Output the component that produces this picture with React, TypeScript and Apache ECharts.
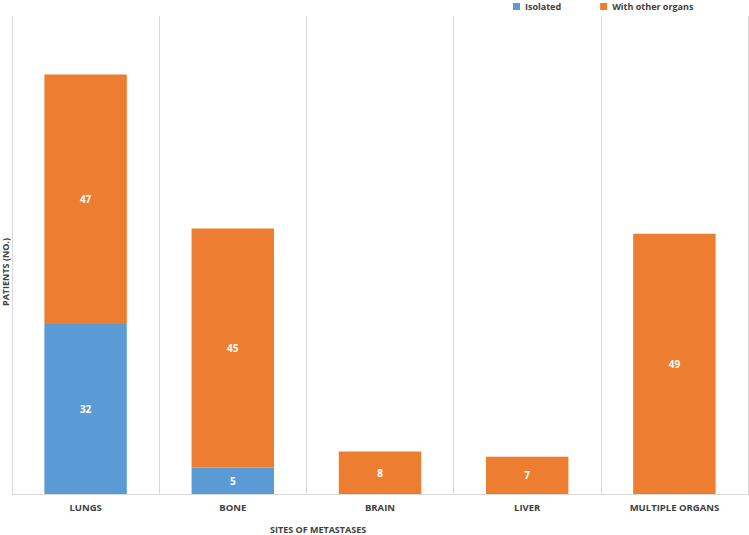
import React, { useEffect, useRef } from "react";
import * as echarts from "echarts";

const categories = ["LUNGS", "BONE", "BRAIN", "LIVER", "MULTIPLE ORGANS"];
const isolated = [32, 5, 0, 0, 0];
const withOther = [47, 45, 8, 7, 49];
const seriesNames = ["Isolated", "With other organs"];
const xTitle = "SITES OF METASTASES";
const yTitle = "PATIENTS (NO.)";

const FONT = "'Liberation Sans Narrow', 'Open Sans', 'DejaVu Sans Condensed', sans-serif";

export default function App() {
  const ref = useRef<HTMLDivElement>(null);
  useEffect(() => {
    if (!ref.current) return;
    const chart = echarts.init(ref.current, undefined, { renderer: "svg" });
    const label = {
      show: true,
      position: "inside",
      color: "#ffffff",
      fontWeight: "bold",
      fontSize: 10,
      fontFamily: FONT,
      formatter: (p: any) => (p.value ? String(p.value) : ""),
    };
    chart.setOption({
      animation: false,
      backgroundColor: "#ffffff",
      grid: { left: 12, right: 1, top: 16, bottom: 41, containLabel: false },
      legend: {
        left: 508,
        top: -3,
        itemWidth: 7,
        itemHeight: 7,
        itemGap: 39,
        icon: "rect",
        textStyle: { color: "#404040", fontSize: 9, fontWeight: "bold", fontFamily: FONT },
        data: seriesNames,
      },
      xAxis: {
        type: "category",
        data: categories,
        axisLine: { show: true, lineStyle: { color: "#d9d9d9", width: 1 } },
        axisTick: { show: false },
        splitLine: { show: true, lineStyle: { color: "#d9d9d9", width: 1 } },
        axisLabel: { color: "#404040", fontSize: 9.5, fontWeight: "bold", fontFamily: FONT, margin: 8 },
      },
      yAxis: {
        type: "value",
        min: 0,
        max: 90,
        axisLine: { show: false },
        axisTick: { show: false },
        axisLabel: { show: false },
        splitLine: { show: false },
      },
      series: [
        {
          name: seriesNames[0],
          type: "bar",
          stack: "total",
          barWidth: "56%",
          itemStyle: { color: "#5b9bd5" },
          label,
          data: isolated,
        },
        {
          name: seriesNames[1],
          type: "bar",
          stack: "total",
          barWidth: "56%",
          itemStyle: { color: "#ed7d31" },
          label,
          data: withOther,
        },
      ],
      graphic: [
        {
          type: "text",
          left: 270,
          top: 525,
          style: { text: xTitle, fill: "#404040", fontSize: 9, fontWeight: "bold", fontFamily: FONT },
        },
        {
          type: "text",
          x: 1,
          y: 306,
          rotation: Math.PI / 2,
          style: { text: yTitle, fill: "#404040", fontSize: 9, fontWeight: "bold", fontFamily: FONT },
        },
      ],
    });
    return () => chart.dispose();
  }, []);
  return (
    <div
      ref={ref}
      style={{ position: "fixed", left: 0, top: 0, width: 749, height: 535 }}
    />
  );
}
